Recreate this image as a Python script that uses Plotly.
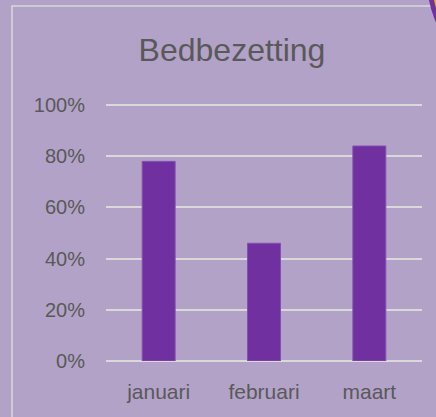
import plotly.graph_objects as go

categories = ["januari", "februari", "maart"]
values = [0.78, 0.46, 0.84]
tick_vals = [0, 0.2, 0.4, 0.6, 0.8, 1.0]
tick_text = ["0%", "20%", "40%", "60%", "80%", "100%"]

W, H = 436, 417
L, R, T, B = 106, 14, 103, 56
PW, PH = W - L - R, H - T - B
YMAX = 1.008

def px(X):
    return (X - L) / PW

def py(Y):
    return (H - B - Y) / PH

BG = "#B3A2C7"
TXT = "#595959"
GRID = "#D9D9D9"
FONT = "Liberation Sans, Arial, sans-serif"

fig = go.Figure(go.Bar(
    x=categories, y=values,
    marker=dict(color="#7030A0", line=dict(color="#8450B0", width=1)),
))

fig.update_layout(
    width=W, height=H,
    margin=dict(l=L, r=R, t=T, b=B),
    paper_bgcolor=BG, plot_bgcolor=BG,
    bargap=0.687,
    showlegend=False,
    font=dict(family=FONT, color=TXT, size=20),
    title=dict(text="Bedbezetting", font=dict(family=FONT, size=32, color=TXT),
               x=px(232), xref="paper", xanchor="center",
               y=1 - 50 / H, yref="container", yanchor="middle"),
    xaxis=dict(showgrid=False, showline=False, zeroline=False, ticks="",
               tickfont=dict(size=21, color=TXT), ticklabelstandoff=16),
    yaxis=dict(range=[0, YMAX], tickvals=tick_vals, ticktext=tick_text,
               showgrid=True, gridcolor=GRID, gridwidth=1.5,
               zeroline=True, zerolinecolor=GRID, zerolinewidth=1.5,
               showline=False, ticks="",
               tickfont=dict(size=20, color=TXT), ticklabelstandoff=20),
    shapes=[
        dict(type="rect", xref="paper", yref="paper",
             x0=px(12), x1=px(452), y0=py(430), y1=py(6),
             line=dict(color=GRID, width=1.5), fillcolor="rgba(0,0,0,0)", layer="below"),
        dict(type="circle", xref="paper", yref="paper",
             x0=px(429.5), x1=px(633.5), y0=py(82), y1=py(-122),
             line=dict(color="#7030A0", width=5), fillcolor="#EFAE1C", layer="above"),
    ],
)

fig.write_html("out.html")
